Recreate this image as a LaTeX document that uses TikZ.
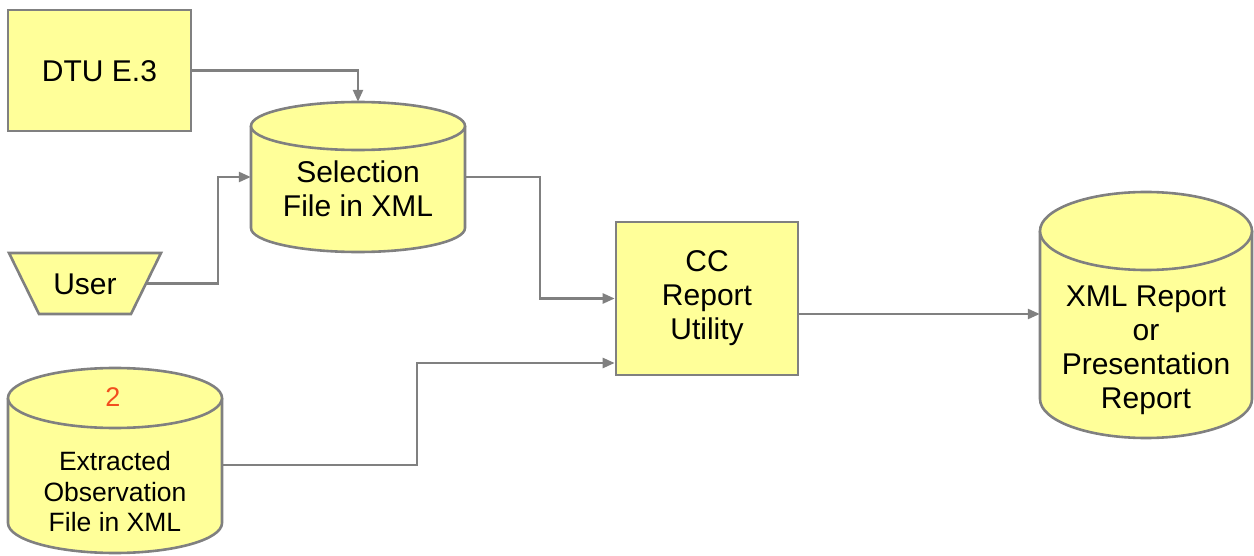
\documentclass[tikz,border=0pt]{standalone}
\usepackage{fontspec}
\setmainfont{Liberation Sans}
\usetikzlibrary{arrows.meta,calc}
\definecolor{boxfill}{HTML}{FFFF99}
\definecolor{edge}{HTML}{808080}
\definecolor{numred}{HTML}{F24E1E}
\tikzset{
  shapeline/.style={draw=edge, line width=2.6pt, fill=boxfill},
  conn/.style={draw=edge, line width=2.4pt, -{Triangle[length=12pt,width=10pt]}},
  bigtext/.style={font=\fontsize{30}{34}\selectfont, align=center, inner sep=0pt},
  smalltext/.style={font=\fontsize{26.5}{30.5}\selectfont, align=center, inner sep=0pt},
  hidden/.style={draw=none, inner sep=0pt}
}
\newcommand{\mycyl}[6]{% L, T, R, B, ry, cx  (T,B given positive, drawn at -y)
  \fill[boxfill] (#1,-#2-#5) rectangle (#3,-#4+#5);
  \fill[boxfill] (#6,-#4+#5) ellipse ({(#3-#1)/2} and #5);
  \draw[draw=edge, line width=2.6pt] (#1,-#2-#5) -- (#1,-#4+#5)
     arc[start angle=180, end angle=360, x radius={(#3-#1)/2}, y radius=#5] -- (#3,-#2-#5);
  \draw[shapeline] (#6,-#2-#5) ellipse ({(#3-#1)/2} and #5);
}
\begin{document}
\begin{tikzpicture}[x=1pt,y=1pt]
\useasboundingbox (0,0) rectangle (1254,-556);

% DTU box
\node[shapeline, minimum width=183pt, minimum height=121pt, inner sep=0pt] (dtu) at (99.5,-70.5) {};
\node[bigtext] (dtut) at (99.5,-71) {DTU E.3};

% User trapezium
\draw[shapeline] (9,-253) -- (161,-253) -- (131,-314) -- (39,-314) -- cycle;
\node[bigtext] (user) at (85,-284) {User};
\coordinate (userE) at (146,-283.5);

% Selection cylinder
\mycyl{251}{102}{465}{252}{24}{358}
\node[hidden, minimum width=214pt, minimum height=150pt] (sel) at (358,-177) {};
\node[bigtext] (selt) at (358,-189) {Selection\\File in XML};

% Extracted cylinder
\mycyl{8}{368}{222}{553}{30}{115}
\node[hidden, minimum width=214pt, minimum height=186pt] (ext) at (115,-465) {};
\node[font=\fontsize{27}{30}\selectfont, text=numred, inner sep=0pt] (num) at (113,-397) {2};
\node[smalltext] (extt) at (115,-492) {Extracted\\Observation\\File in XML};

% CC box
\node[shapeline, minimum width=182pt, minimum height=153pt, inner sep=0pt] (cc) at (707,-298.5) {};
\node[bigtext] (cct) at (707,-298) {CC\\Report\\Utility};

% XML report cylinder
\mycyl{1040}{192}{1252}{438}{39}{1146}
\node[hidden, minimum width=212pt, minimum height=246pt] (xml) at (1146,-314) {};
\node[bigtext] (xmlt) at (1146,-350) {XML Report\\or\\Presentation\\Report};

% connectors
\draw[conn] (dtu.east) -| (sel.north);
\draw[conn] (userE) -- (218,-283.5) |- (sel.west);
\draw[conn] (sel.east) -- (540,-177) |- (cc.west);
\draw[conn] (ext.east) -- (417,-465) |- ([yshift=-64.5pt]cc.west);
\draw[conn] (cc.east |- xml.west) -- (xml.west);
\end{tikzpicture}
\end{document}
